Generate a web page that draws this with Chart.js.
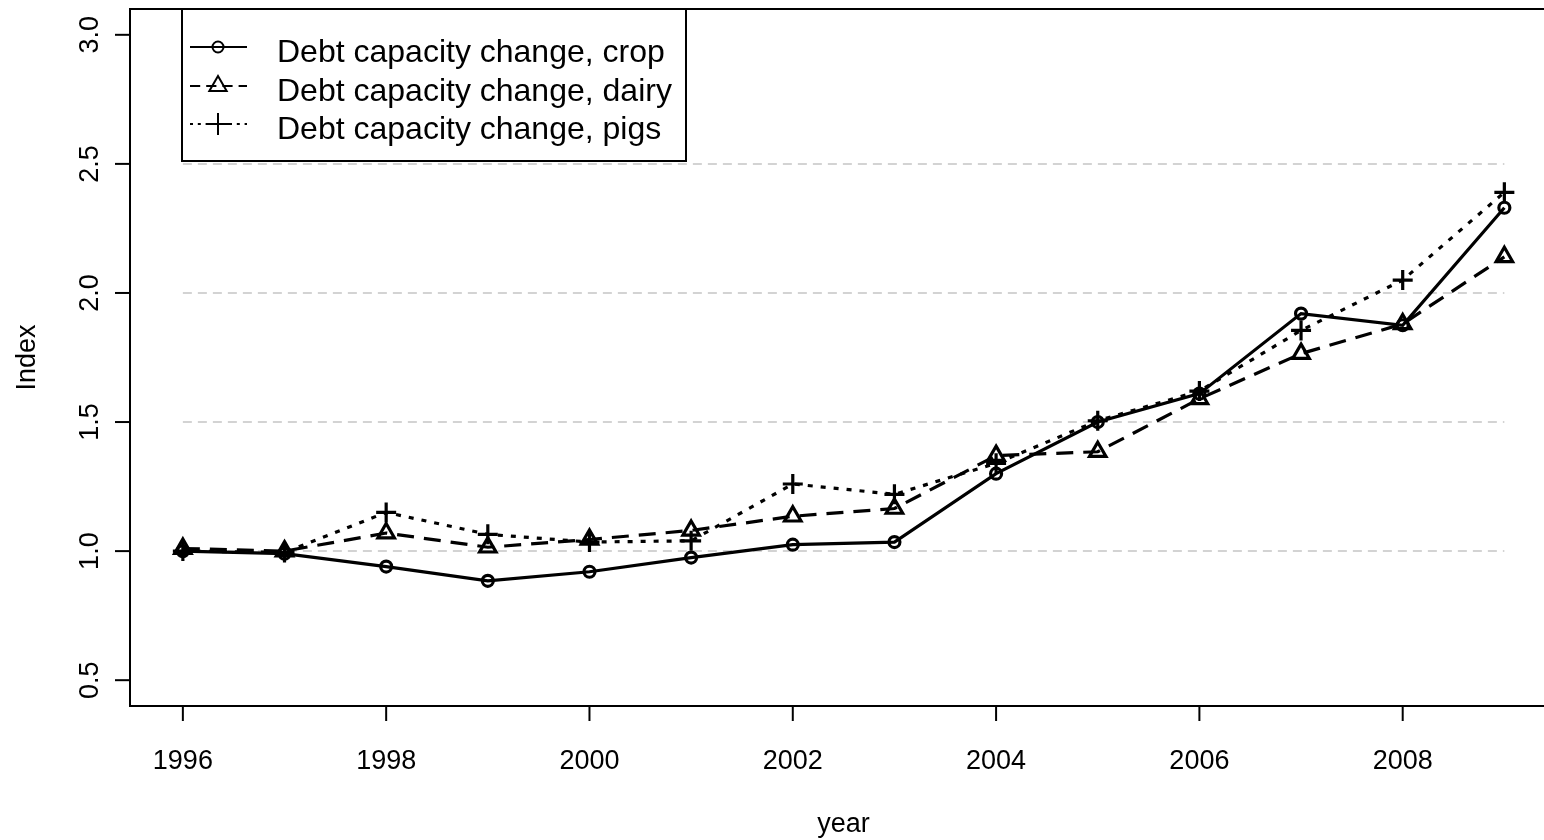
<!DOCTYPE html>
<html>
<head>
<meta charset="utf-8">
<script src="https://cdn.jsdelivr.net/npm/chart.js@4.4.0/dist/chart.umd.min.js"></script>
<style>
  html, body { margin: 0; padding: 0; background: #ffffff; overflow: hidden; }
  #wrap { width: 1544px; height: 840px; }
</style>
</head>
<body>
<div id="wrap"><canvas id="c" width="1544" height="840"></canvas></div>
<script>
// ---- data ----
const years = [1996, 1997, 1998, 1999, 2000, 2001, 2002, 2003, 2004, 2005, 2006, 2007, 2008, 2009];
const cropIndex  = [1.00, 0.99, 0.94, 0.885, 0.92, 0.975, 1.025, 1.035, 1.30, 1.50, 1.61, 1.92, 1.875, 2.33];
const dairyIndex = [1.01, 1.00, 1.07, 1.015, 1.045, 1.08, 1.135, 1.165, 1.37, 1.385, 1.59, 1.765, 1.88, 2.14];
const pigsIndex  = [1.00, 0.995, 1.15, 1.065, 1.035, 1.04, 1.26, 1.22, 1.34, 1.505, 1.62, 1.855, 2.05, 2.39];
const seriesLabels = ["Debt capacity change, crop", "Debt capacity change, dairy", "Debt capacity change, pigs"];
const xTicks = [1996, 1998, 2000, 2002, 2004, 2006, 2008];
const yTicks = [0.5, 1.0, 1.5, 2.0, 2.5, 3.0];
const yTickLabels = ["0.5", "1.0", "1.5", "2.0", "2.5", "3.0"];
const gridLevels = [1.0, 1.5, 2.0, 2.5];
const gridSpan = [1996, 2009];
const xTitle = "year";
const yTitle = "Index";

// ---- styles ----
const FONT = '"Liberation Sans", Arial, Helvetica, sans-serif';
const seriesStyles = [
  { dash: [], point: 'circle', radius: 5.5 },
  { dash: [17, 10], point: 'triangle', radius: 9.5 },
  { dash: [5, 8], point: 'cross', radius: 10 }
];
const seriesValues = [cropIndex, dairyIndex, pigsIndex];

const datasets = [];
seriesValues.forEach((vals, i) => {
  const st = seriesStyles[i];
  datasets.push({
    label: seriesLabels[i],
    data: years.map((y, k) => ({ x: y, y: vals[k] })),
    borderColor: '#000',
    backgroundColor: 'rgba(0,0,0,0)',
    borderWidth: 3.2,
    borderDash: st.dash,
    pointStyle: st.point,
    pointRadius: st.radius,
    pointBorderWidth: 3.2,
    pointBorderColor: '#000',
    pointBackgroundColor: 'rgba(0,0,0,0)',
    tension: 0,
    fill: false,
    order: 1
  });
});
gridLevels.forEach(g => {
  datasets.push({
    label: '_grid',
    data: gridSpan.map(x => ({ x: x, y: g })),
    borderColor: '#d3d3d3',
    borderWidth: 2,
    borderDash: [9, 6],
    pointRadius: 0,
    fill: false,
    order: 10
  });
});

function drawMarker(ctx, style, x, y, r) {
  ctx.beginPath();
  if (style === 'circle') {
    ctx.arc(x, y, r, 0, Math.PI * 2);
  } else if (style === 'triangle') {
    for (let k = 0; k < 3; k++) {
      const a = k * 2 * Math.PI / 3;
      const px = x + Math.sin(a) * r, py = y - Math.cos(a) * r;
      if (k === 0) ctx.moveTo(px, py); else ctx.lineTo(px, py);
    }
    ctx.closePath();
  } else if (style === 'cross') {
    ctx.moveTo(x - r, y); ctx.lineTo(x + r, y);
    ctx.moveTo(x, y - r); ctx.lineTo(x, y + r);
  }
  ctx.stroke();
}

const framePlugin = {
  id: 'rframe',
  afterDraw(chart) {
    const ctx = chart.ctx;
    const a = chart.chartArea;
    const xs = chart.scales.x, ys = chart.scales.y;
    ctx.save();
    ctx.setLineDash([]);
    ctx.strokeStyle = '#000';
    ctx.fillStyle = '#000';
    ctx.lineWidth = 2;
    // box
    ctx.beginPath();
    ctx.moveTo(chart.width + 2, a.top); ctx.lineTo(a.left, a.top);
    ctx.lineTo(a.left, a.bottom); ctx.lineTo(chart.width + 2, a.bottom);
    ctx.stroke();
    // x ticks
    ctx.font = '27px ' + FONT;
    ctx.textAlign = 'center';
    ctx.textBaseline = 'alphabetic';
    xTicks.forEach(t => {
      const px = xs.getPixelForValue(t);
      ctx.beginPath(); ctx.moveTo(px, a.bottom); ctx.lineTo(px, a.bottom + 15); ctx.stroke();
      ctx.fillText(String(t), px, a.bottom + 63);
    });
    // y ticks
    yTicks.forEach((t, i) => {
      const py = ys.getPixelForValue(t);
      ctx.beginPath(); ctx.moveTo(a.left, py); ctx.lineTo(a.left - 15, py); ctx.stroke();
      ctx.save();
      ctx.translate(a.left - 32, py);
      ctx.rotate(-Math.PI / 2);
      ctx.fillText(yTickLabels[i], 0, 0);
      ctx.restore();
    });
    // titles
    ctx.fillText(xTitle, (a.left + 1557) / 2, a.bottom + 126);
    ctx.save();
    ctx.translate(a.left - 95, (a.top + a.bottom) / 2);
    ctx.rotate(-Math.PI / 2);
    ctx.fillText(yTitle, 0, 0);
    ctx.restore();

    // legend
    const lx = 182, ly = a.top, lw = 504, lh = 152;
    ctx.fillStyle = '#fff';
    ctx.fillRect(lx, ly, lw, lh);
    ctx.strokeStyle = '#000';
    ctx.lineWidth = 2;
    ctx.strokeRect(lx, ly, lw, lh);
    ctx.fillStyle = '#000';
    ctx.font = '32px ' + FONT;
    ctx.textAlign = 'left';
    const rows = [47, 86, 124];
    seriesLabels.forEach((lab, i) => {
      const ry = rows[i];
      const st = seriesStyles[i];
      ctx.lineWidth = 2;
      ctx.setLineDash(st.dash.map(d => d * 0.6));
      ctx.beginPath(); ctx.moveTo(190, ry); ctx.lineTo(247, ry); ctx.stroke();
      ctx.setLineDash([]);
      drawMarker(ctx, st.point, 218, ry, st.point === 'circle' ? 5.5 : (st.point === 'triangle' ? 10 : 11));
      ctx.fillText(lab, 277, ry + 15);
    });
    ctx.restore();
  }
};

new Chart(document.getElementById('c'), {
  type: 'line',
  data: { datasets: datasets },
  options: {
    responsive: false,
    animation: false,
    devicePixelRatio: 1,
    layout: { autoPadding: false, padding: { left: 130, top: 9, right: 0, bottom: 134 } },
    plugins: { legend: { display: false }, tooltip: { enabled: false } },
    scales: {
      x: { type: 'linear', min: 1995.48, max: 2009.39, display: false },
      y: { type: 'linear', min: 0.4, max: 3.1, display: false }
    }
  },
  plugins: [framePlugin]
});
</script>
</body>
</html>
